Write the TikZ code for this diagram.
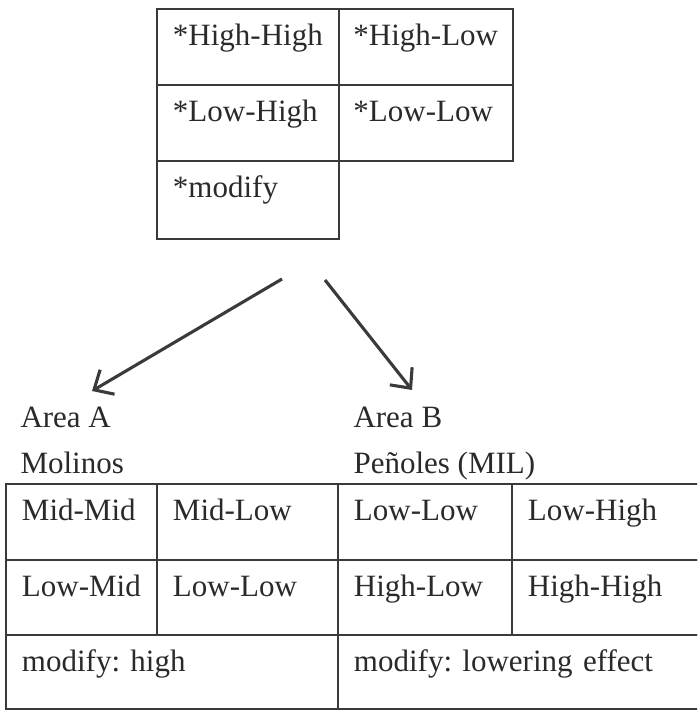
\documentclass[tikz,border=0pt]{standalone}
\usepackage{fontspec}
\setmainfont{Liberation Serif}
\usetikzlibrary{arrows.meta}

\newlength\pxu
\setlength\pxu{0.3871pt}
\definecolor{ink}{HTML}{2A2A2A}
\definecolor{rule}{HTML}{3A3A3A}
\frenchspacing
\exhyphenpenalty=10000
\hbadness=10000
\hfuzz=20pt

\tikzset{
  cell/.style 2 args={draw=rule, line width=0.75pt, anchor=north west,
    inner xsep=16\pxu, inner ysep=0pt, text height=37\pxu,
    text depth=#2\pxu, text width=#1\pxu, align=left},
  arealabel/.style={anchor=base west, inner sep=0pt},
  split/.style={-{Straight Barb[length=6pt,width=11pt]}, line width=1.2pt, draw=rule}
}

\begin{document}
\begin{tikzpicture}[x=0.3871pt, y=-0.3871pt, font=\fontsize{12}{14}\selectfont, text=ink]
            \path[use as bounding box, clip] (0,0) rectangle (697,710);

            % upper table
            \node[cell={150}{39}] (hh) at (156,8) {*High-High};
            \node[cell={145}{39}, inner xsep=14.5\pxu] (hl) at (338,8) {*High-Low};
            \node[cell={150}{39}] (lh) at (156,84) {*Low-High};
            \node[cell={145}{39}, inner xsep=14.5\pxu] (ll) at (338,84) {*Low-Low};
            \node[cell={150}{41}] (md) at (156,160) {*modify};

            % the two areas
            \coordinate (splitA) at (282,279);
            \coordinate (tipA) at (92,391);
            \coordinate (splitB) at (325,280);
            \coordinate (tipB) at (412,390);
            \draw[split] (splitA) -- (tipA);
            \draw[split] (splitB) -- (tipB);

            \node[arealabel] (areaA) at (20,427) {Area A};
            \node[arealabel] (molinos) at (20,473) {Molinos};
            \node[arealabel] (areaB) at (353,427) {Area B};
            \node[arealabel] (penoles) at (353,473) {Peñoles (MIL)};

            % lower table
            \node[cell={119}{39}] (mm) at (5,483) {Mid-Mid};
            \node[cell={149}{39}] (ml) at (156,483) {Mid-Low};
            \node[cell={142}{39}] (bll) at (337,483) {Low-Low};
            \node[cell={177}{39}] (blh) at (511,483) {Low-High};
            \node[cell={119}{38}] (lm) at (5,559) {Low-Mid};
            \node[cell={149}{38}] (lwl) at (156,559) {Low-Low};
            \node[cell={142}{38}] (bhl) at (337,559) {High-Low};
            \node[cell={177}{38}] (bhh) at (511,559) {High-High};
            \node[cell={300}{37}] (mhigh) at (5,634) {modify: high};
            \node[cell={351}{37}] (mlow) at (337,634) {modify: lowering effect};
\end{tikzpicture}
\end{document}
